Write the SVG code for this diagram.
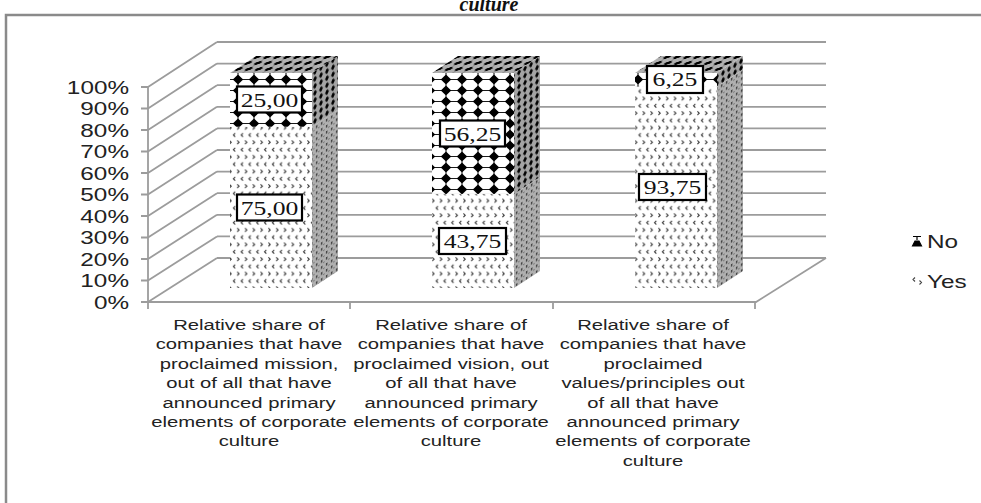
<svg xmlns="http://www.w3.org/2000/svg" width="981" height="503" viewBox="0 0 981 503">
<defs>
<style>
.grid{stroke:#9c9c9c;stroke-width:1.8;fill:none}
.ax{font-family:"Liberation Sans",Arial,sans-serif;font-size:18px;fill:#222}
.cat{font-family:"Liberation Sans",Arial,sans-serif;font-size:15px;fill:#222;text-anchor:middle}
.val{font-family:"Liberation Serif","Times New Roman",serif;font-size:19px;fill:#111;text-anchor:middle}
.box{fill:#fff;stroke:#000;stroke-width:2.2}
.leg{font-family:"Liberation Sans",Arial,sans-serif;font-size:18px;fill:#222}
</style>
<pattern id="noFront" patternUnits="userSpaceOnUse" x="230" y="74" width="16" height="11">
<rect width="16" height="11" fill="#fff"/>
<path d="M0 5.5H16M8 0V11" stroke="#000" stroke-width="0.9"/>
<polygon points="8,0.6 13.2,5.5 8,10.4 2.8,5.5" fill="#000"/>
</pattern>
<pattern id="noSide" patternUnits="userSpaceOnUse" width="6" height="7" patternTransform="skewY(-33)">
<rect width="6" height="7" fill="#a4a4a4"/>
<polygon points="3,0.5 5,3.5 3,6.5 1,3.5" fill="#000"/>
</pattern>
<pattern id="noTop" patternUnits="userSpaceOnUse" width="10" height="6" patternTransform="skewX(-57)">
<rect width="10" height="6" fill="#b0b0b0"/>
<polygon points="5,0.5 8.5,3 5,5.5 1.5,3" fill="#000"/>
</pattern>
<pattern id="yesFront" patternUnits="userSpaceOnUse" x="230" y="0" width="15.6" height="14.6">
<rect width="15.6" height="14.6" fill="#fff"/>
<path d="M5.2 1.8 L3.4 3.6 L5.2 5.4 M13 1.8 L11.2 3.6 L13 5.4 M-0.6 9.1 L1.2 10.9 L-0.6 12.7 M7.2 9.1 L9 10.9 L7.2 12.7 M15 9.1 L16.8 10.9 L15 12.7" stroke="#333" stroke-width="1.1" fill="none"/>
</pattern>
<pattern id="yesSide" patternUnits="userSpaceOnUse" width="5" height="6" patternTransform="skewY(-33)">
<rect width="5" height="6" fill="#b0b0b0"/>
<rect x="1" y="1" width="1.2" height="2.6" fill="#222"/>
<rect x="3.5" y="4" width="1" height="1.2" fill="#555"/>
</pattern>
</defs>

<rect x="6" y="15" width="1000" height="520" fill="#fff" stroke="#8a8a8a" stroke-width="2.5"/>
<text x="489" y="11" font-family="Liberation Serif,serif" font-size="20" font-weight="bold" font-style="italic" text-anchor="middle" fill="#111">culture</text>

<g id="walls">
<g class="grid">
<path d="M148 302L217 258M148 280.5L217 236.4M148 259L217 214.8M148 237.5L217 193.2M148 216L217 171.6M148 194.5L217 150M148 173L217 128.4M148 151.5L217 106.8M148 130L217 85.2M148 108.5L217 63.6M148 87L217 42"/>
<path d="M217 258H826M217 236.4H826M217 214.8H826M217 193.2H826M217 171.6H826M217 150H826M217 128.4H826M217 106.8H826M217 85.2H826M217 63.6H826M217 42H826"/>
<path d="M148 302H756L826 258"/>
<path d="M148 86V302M141 302H148M141 280.5H148M141 259H148M141 237.5H148M141 216H148M141 194.5H148M141 173H148M141 151.5H148M141 130H148M141 108.5H148M141 87H148"/>
<path d="M148 302V309M350 302V309M553 302V309M755 302V309"/>
</g>
</g>

<g id="yaxis-labels" class="ax" text-anchor="end">
<text transform="translate(129,93.5) scale(1.35,1)">100%</text>
<text transform="translate(129,115) scale(1.35,1)">90%</text>
<text transform="translate(129,136.5) scale(1.35,1)">80%</text>
<text transform="translate(129,158) scale(1.35,1)">70%</text>
<text transform="translate(129,179.5) scale(1.35,1)">60%</text>
<text transform="translate(129,201) scale(1.35,1)">50%</text>
<text transform="translate(129,222.5) scale(1.35,1)">40%</text>
<text transform="translate(129,244) scale(1.35,1)">30%</text>
<text transform="translate(129,265.5) scale(1.35,1)">20%</text>
<text transform="translate(129,287) scale(1.35,1)">10%</text>
<text transform="translate(129,308.5) scale(1.35,1)">0%</text>
</g>

<g id="bar1">
<polygon points="312,126.75 338,109.75 338,271 312,288" fill="url(#yesSide)"/>
<polygon points="312,73 338,56 338,109.75 312,126.75" fill="url(#noSide)"/>
<polygon points="230,73 256,56 338,56 312,73" fill="url(#noTop)"/>
<rect x="230" y="126.75" width="82" height="161.25" fill="url(#yesFront)"/>
<rect x="230" y="73" width="82" height="53.75" fill="url(#noFront)"/>
<rect class="box" x="237" y="86.5" width="65" height="26"/>
<text class="val" transform="translate(269.5,106.5) scale(1.35,1)">25,00</text>
<rect class="box" x="237" y="194.5" width="65" height="26"/>
<text class="val" transform="translate(269.5,214.5) scale(1.35,1)">75,00</text>
</g>

<g id="bar2">
<polygon points="514,193.9 540,176.9 540,271 514,288" fill="url(#yesSide)"/>
<polygon points="514,73 540,56 540,176.9 514,193.9" fill="url(#noSide)"/>
<polygon points="432,73 458,56 540,56 514,73" fill="url(#noTop)"/>
<rect x="432" y="193.9" width="82" height="94.1" fill="url(#yesFront)"/>
<rect x="432" y="73" width="82" height="120.9" fill="url(#noFront)"/>
<rect class="box" x="440" y="120.5" width="65" height="26"/>
<text class="val" transform="translate(472.5,140.5) scale(1.35,1)">56,25</text>
<rect class="box" x="439" y="228" width="67" height="26"/>
<text class="val" transform="translate(472.5,248) scale(1.35,1)">43,75</text>
</g>

<g id="bar3">
<polygon points="717,86.4 743,69.4 743,271 717,288" fill="url(#yesSide)"/>
<polygon points="717,73 743,56 743,69.4 717,86.4" fill="url(#noSide)"/>
<polygon points="635,73 661,56 743,56 717,73" fill="url(#noTop)"/>
<rect x="635" y="86.4" width="82" height="201.6" fill="url(#yesFront)"/>
<rect x="635" y="73" width="82" height="13.4" fill="url(#noFront)"/>
<rect class="box" x="647" y="66" width="56" height="27"/>
<text class="val" transform="translate(675,86) scale(1.35,1)">6,25</text>
<rect class="box" x="639" y="174" width="67" height="26"/>
<text class="val" transform="translate(672.5,194) scale(1.35,1)">93,75</text>
</g>

<g id="category-labels" class="cat">
<g>
<text transform="translate(249,330) scale(1.35,1)">Relative share of</text>
<text transform="translate(249,349.4) scale(1.35,1)">companies that have</text>
<text transform="translate(249,368.8) scale(1.35,1)">proclaimed mission,</text>
<text transform="translate(249,388.2) scale(1.35,1)">out of all that have</text>
<text transform="translate(249,407.6) scale(1.35,1)">announced primary</text>
<text transform="translate(249,427) scale(1.35,1)">elements of corporate</text>
<text transform="translate(249,446.4) scale(1.35,1)">culture</text>
</g>
<g>
<text transform="translate(451,330) scale(1.35,1)">Relative share of</text>
<text transform="translate(451,349.4) scale(1.35,1)">companies that have</text>
<text transform="translate(451,368.8) scale(1.35,1)">proclaimed vision, out</text>
<text transform="translate(451,388.2) scale(1.35,1)">of all that have</text>
<text transform="translate(451,407.6) scale(1.35,1)">announced primary</text>
<text transform="translate(451,427) scale(1.35,1)">elements of corporate</text>
<text transform="translate(451,446.4) scale(1.35,1)">culture</text>
</g>
<g>
<text transform="translate(653,330) scale(1.35,1)">Relative share of</text>
<text transform="translate(653,349.4) scale(1.35,1)">companies that have</text>
<text transform="translate(653,368.8) scale(1.35,1)">proclaimed</text>
<text transform="translate(653,388.2) scale(1.35,1)">values/principles out</text>
<text transform="translate(653,407.6) scale(1.35,1)">of all that have</text>
<text transform="translate(653,427) scale(1.35,1)">announced primary</text>
<text transform="translate(653,446.4) scale(1.35,1)">elements of corporate</text>
<text transform="translate(653,465.8) scale(1.35,1)">culture</text>
</g>
</g>

<g id="legend">
<g id="legend-no">
<path d="M913 236.5H921M917 237V240M912.5 246L915 241H919L921.5 246Z" stroke="#000" stroke-width="1.2" fill="#000"/>
<text class="leg" transform="translate(927,247.5) scale(1.35,1)">No</text>
</g>
<g id="legend-yes">
<path d="M915 277.5L913 279.5L915 281.5M919.5 280.5L921.5 282.5L919.5 284.5" stroke="#444" stroke-width="1.1" fill="none"/>
<text class="leg" transform="translate(927,287.5) scale(1.35,1)">Yes</text>
</g>
</g>
</svg>
